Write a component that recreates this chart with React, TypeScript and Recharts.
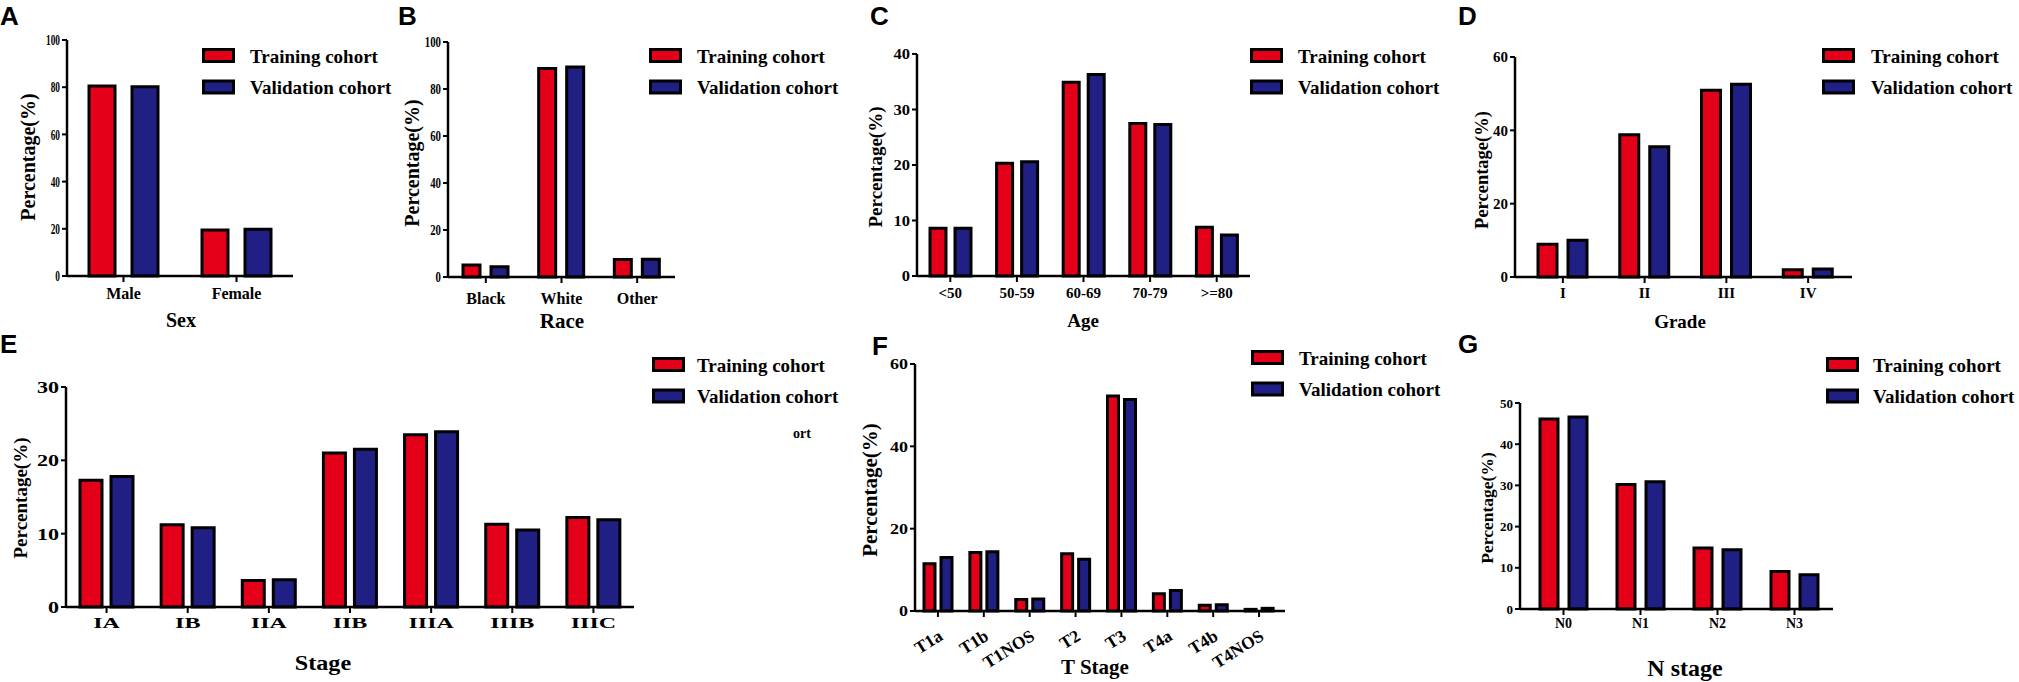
import React from 'react';
import { BarChart, Bar, XAxis, YAxis } from 'recharts';

const seriesNames = ['Training cohort', 'Validation cohort'];

const sexCats = ['Male', 'Female'];
const sexTrain = [80.5, 19.5];
const sexValid = [80.2, 19.8];

const raceCats = ['Black', 'White', 'Other'];
const raceTrain = [5.1, 88.7, 7.4];
const raceValid = [4.4, 89.4, 7.6];

const ageCats = ['<50', '50-59', '60-69', '70-79', '>=80'];
const ageTrain = [8.6, 20.3, 34.9, 27.5, 8.8];
const ageValid = [8.6, 20.6, 36.3, 27.3, 7.4];

const gradeCats = ['I', 'II', 'III', 'IV'];
const gradeTrain = [8.9, 38.8, 50.9, 2.0];
const gradeValid = [10.0, 35.5, 52.6, 2.2];

const stageCats = ['IA', 'IB', 'IIA', 'IIB', 'IIIA', 'IIIB', 'IIIC'];
const stageTrain = [17.3, 11.2, 3.6, 21.0, 23.5, 11.3, 12.2];
const stageValid = [17.8, 10.8, 3.7, 21.5, 23.9, 10.5, 11.9];

const tCats = ['T1a', 'T1b', 'T1NOS', 'T2', 'T3', 'T4a', 'T4b', 'T4NOS'];
const tTrain = [11.5, 14.2, 2.8, 13.9, 52.2, 4.2, 1.4, 0.4];
const tValid = [13.0, 14.4, 2.9, 12.6, 51.4, 5.0, 1.5, 0.65];

const nCats = ['N0', 'N1', 'N2', 'N3'];
const nTrain = [46.1, 30.2, 14.8, 9.1];
const nValid = [46.6, 30.9, 14.4, 8.3];

const ticks100 = [0, 20, 40, 60, 80, 100];
const ticks40 = [0, 10, 20, 30, 40];
const ticks60 = [0, 20, 40, 60];
const ticks30 = [0, 10, 20, 30];
const ticks50 = [0, 10, 20, 30, 40, 50];

const RED = '#E50019';
const BLUE = '#1F1F84';
const SERIF = '"Liberation Serif", "Times New Roman", serif';
const SANS = '"Liberation Sans", Arial, sans-serif';

const build = (cats: string[], a: number[], b: number[]) =>
  cats.map((c, i) => ({ cat: c, train: a[i], valid: b[i] }));

const XTick = (props: any) => {
  const { x, y, payload, fs, sx } = props;
  return (
    <text
      transform={`translate(${x},${y}) scale(${sx},1)`}
      textAnchor="middle"
      dy={fs * 0.72}
      fontSize={fs}
      fontFamily={SERIF}
      fontWeight="bold"
      fill="#000"
    >
      {payload.value}
    </text>
  );
};

const XTickRot = (props: any) => {
  const { x, y, payload, fs } = props;
  return (
    <text
      transform={`translate(${x + 6},${y + 20}) rotate(-32)`}
      textAnchor="end"
      fontSize={fs}
      fontFamily={SERIF}
      fontWeight="bold"
      fill="#000"
    >
      {payload.value}
    </text>
  );
};

const YTick = (props: any) => {
  const { x, y, payload, fs, sx } = props;
  return (
    <text
      transform={`translate(${x},${y}) scale(${sx},1)`}
      textAnchor="end"
      dy={fs * 0.35}
      fontSize={fs}
      fontFamily={SERIF}
      fontWeight="bold"
      fill="#000"
    >
      {payload.value}
    </text>
  );
};

type Panel = {
  letter: string;
  cats: string[];
  train: number[];
  valid: number[];
  ticks: number[];
  x0: number; x1: number; yTop: number; yBottom: number;
  padL: number; padR: number;
  barSize: number; barGap: number;
  yFs: number; ySx: number;
  xFs: number; xSx: number; xMargin: number;
  rotate?: boolean;
  title: string; titleX: number; titleY: number; titleFs: number; titleSx: number;
  pctX: number; pctY: number; pctFs: number;
  letterX: number; letterY: number;
  legX: number; legY: number; legTextX: number;
};

const panels: Panel[] = [
  {
    letter: 'A', cats: sexCats, train: sexTrain, valid: sexValid, ticks: ticks100,
    x0: 67, x1: 293, yTop: 40, yBottom: 276, padL: 0, padR: 0, barSize: 26, barGap: 17,
    yFs: 15, ySx: 0.62, xFs: 16, xSx: 1, xMargin: 5,
    title: 'Sex', titleX: 181, titleY: 320, titleFs: 20, titleSx: 1,
    pctX: 28, pctY: 157, pctFs: 20, letterX: 0, letterY: 25,
    legX: 202, legY: 48, legTextX: 250,
  },
  {
    letter: 'B', cats: raceCats, train: raceTrain, valid: raceValid, ticks: ticks100,
    x0: 448, x1: 675, yTop: 42, yBottom: 277, padL: 0, padR: 0, barSize: 17, barGap: 11,
    yFs: 15, ySx: 0.72, xFs: 16, xSx: 1, xMargin: 9,
    title: 'Race', titleX: 562, titleY: 321, titleFs: 21, titleSx: 1,
    pctX: 412, pctY: 163, pctFs: 20, letterX: 398, letterY: 25,
    legX: 649, legY: 48, legTextX: 697,
  },
  {
    letter: 'C', cats: ageCats, train: ageTrain, valid: ageValid, ticks: ticks40,
    x0: 917, x1: 1250, yTop: 54, yBottom: 276, padL: 0, padR: 0, barSize: 16, barGap: 9,
    yFs: 15, ySx: 1.1, xFs: 15, xSx: 1, xMargin: 5,
    title: 'Age', titleX: 1083, titleY: 320, titleFs: 19, titleSx: 1,
    pctX: 875, pctY: 167, pctFs: 19, letterX: 870, letterY: 25,
    legX: 1250, legY: 48, legTextX: 1298,
  },
  {
    letter: 'D', cats: gradeCats, train: gradeTrain, valid: gradeValid, ticks: ticks60,
    x0: 1515, x1: 1852, yTop: 57, yBottom: 277, padL: 7, padR: 3, barSize: 19, barGap: 11,
    yFs: 15, ySx: 1, xFs: 15, xSx: 1, xMargin: 4,
    title: 'Grade', titleX: 1680, titleY: 321, titleFs: 19, titleSx: 1,
    pctX: 1482, pctY: 170, pctFs: 18.5, letterX: 1458, letterY: 25,
    legX: 1822, legY: 48, legTextX: 1871,
  },
  {
    letter: 'E', cats: stageCats, train: stageTrain, valid: stageValid, ticks: ticks30,
    x0: 66, x1: 634, yTop: 387, yBottom: 607, padL: 0, padR: 0, barSize: 22, barGap: 9,
    yFs: 17, ySx: 1.3, xFs: 15, xSx: 1.6, xMargin: 4,
    title: 'Stage', titleX: 323, titleY: 663, titleFs: 21, titleSx: 1.15,
    pctX: 20, pctY: 498, pctFs: 19, letterX: 0, letterY: 353,
    legX: 652, legY: 357, legTextX: 697,
  },
  {
    letter: 'F', cats: tCats, train: tTrain, valid: tValid, ticks: ticks60,
    x0: 915, x1: 1285, yTop: 364, yBottom: 611, padL: 0, padR: 3, barSize: 11, barGap: 6,
    yFs: 15, ySx: 1.2, xFs: 17.5, xSx: 1, xMargin: 2, rotate: true,
    title: 'T Stage', titleX: 1095, titleY: 667, titleFs: 21, titleSx: 1,
    pctX: 870, pctY: 490, pctFs: 21, letterX: 872, letterY: 355,
    legX: 1251, legY: 350, legTextX: 1299,
  },
  {
    letter: 'G', cats: nCats, train: nTrain, valid: nValid, ticks: ticks50,
    x0: 1520, x1: 1833, yTop: 403, yBottom: 609, padL: 5, padR: 0, barSize: 18, barGap: 11,
    yFs: 13, ySx: 1, xFs: 14, xSx: 1, xMargin: 3,
    title: 'N stage', titleX: 1685, titleY: 668, titleFs: 24, titleSx: 1,
    pctX: 1487, pctY: 508, pctFs: 17.5, letterX: 1458, letterY: 353,
    legX: 1826, legY: 357, legTextX: 1873,
  },
];

const YW = 60;
const MT = 12;
const MR = 10;
const XH = 60;

const PanelChart = ({ p }: { p: Panel }) => {
  const data = build(p.cats, p.train, p.valid);
  const plotW = p.x1 - p.x0;
  const plotH = p.yBottom - p.yTop;
  const max = p.ticks[p.ticks.length - 1];
  return (
    <div style={{ position: 'absolute', left: p.x0 - YW, top: p.yTop - MT }}>
      <BarChart
        width={YW + plotW + MR}
        height={MT + plotH + XH}
        data={data}
        margin={{ top: MT, right: MR, left: 0, bottom: 0 }}
        barSize={p.barSize}
        barGap={p.barGap}
      >
        <XAxis
          dataKey="cat"
          height={XH}
          interval={0}
          padding={{ left: p.padL, right: p.padR }}
          axisLine={{ stroke: '#000', strokeWidth: 2.5 }}
          tickLine={{ stroke: '#000', strokeWidth: 2 }}
          tickSize={6}
          tickMargin={p.xMargin}
          tick={p.rotate ? <XTickRot fs={p.xFs} /> : <XTick fs={p.xFs} sx={p.xSx} />}
        />
        <YAxis
          width={YW}
          domain={[0, max]}
          ticks={p.ticks}
          interval={0}
          axisLine={{ stroke: '#000', strokeWidth: 2.5 }}
          tickLine={{ stroke: '#000', strokeWidth: 2 }}
          tickSize={5}
          tickMargin={2}
          tick={<YTick fs={p.yFs} sx={p.ySx} />}
        />
        <Bar dataKey="train" name={seriesNames[0]} fill={RED} stroke="#000" strokeWidth={3} isAnimationActive={false} />
        <Bar dataKey="valid" name={seriesNames[1]} fill={BLUE} stroke="#000" strokeWidth={3} isAnimationActive={false} />
      </BarChart>
    </div>
  );
};

const Overlay = () => {
  const colors = [RED, BLUE];
  return (
    <svg
      width={2019}
      height={682}
      style={{ position: 'absolute', left: 0, top: 0, pointerEvents: 'none' }}
    >
      {panels.map((p) => (
        <g key={p.letter}>
          <text x={p.letterX} y={p.letterY} fontFamily={SANS} fontWeight="bold" fontSize={26} fill="#000">
            {p.letter}
          </text>
          <text
            transform={`translate(${p.titleX},${p.titleY}) scale(${p.titleSx},1)`}
            textAnchor="middle"
            dominantBaseline="central"
            fontFamily={SERIF}
            fontWeight="bold"
            fontSize={p.titleFs}
            fill="#000"
          >
            {p.title}
          </text>
          <text
            transform={`translate(${p.pctX},${p.pctY}) rotate(-90)`}
            textAnchor="middle"
            dominantBaseline="central"
            fontFamily={SERIF}
            fontWeight="bold"
            fontSize={p.pctFs}
            fill="#000"
          >
            Percentage(%)
          </text>
          {seriesNames.map((s, i) => (
            <g key={s}>
              <rect
                x={p.legX + 1.5}
                y={p.legY + i * 31.5 + 1.5}
                width={30}
                height={12}
                fill={colors[i]}
                stroke="#000"
                strokeWidth={3}
              />
              <text
                x={p.legTextX}
                y={p.legY + 15 + i * 31}
                fontFamily={SERIF}
                fontWeight="bold"
                fontSize={19}
                fill="#000"
              >
                {s}
              </text>
            </g>
          ))}
        </g>
      ))}
      <text x={793} y={438} fontFamily={SERIF} fontWeight="bold" fontSize={14} fill="#000">
        ort
      </text>
    </svg>
  );
};

export default function App() {
  return (
    <div style={{ position: 'absolute', left: 0, top: 0, width: 2019, height: 682, background: '#fff' }}>
      {panels.map((p) => (
        <PanelChart key={p.letter} p={p} />
      ))}
      <Overlay />
    </div>
  );
}
